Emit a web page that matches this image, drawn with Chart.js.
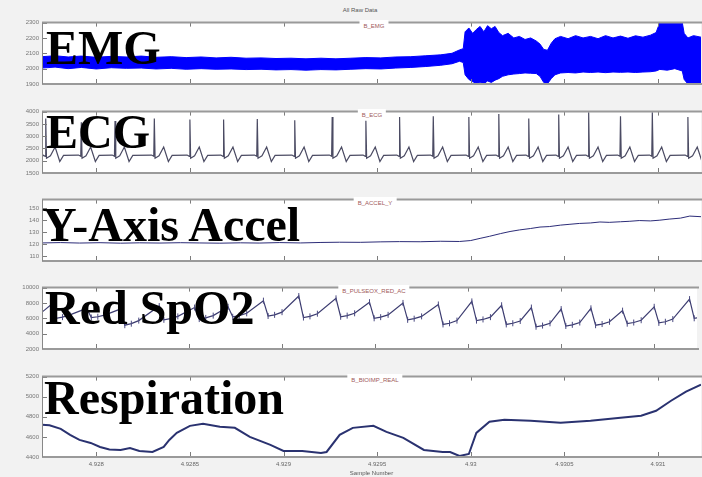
<!DOCTYPE html>
<html>
<head>
<meta charset="utf-8">
<script src="https://cdn.jsdelivr.net/npm/chart.js@4.4.1/dist/chart.umd.min.js"></script>
<style>
  html, body { margin: 0; padding: 0; background: #f2f2f2; }
  #fig { position: relative; width: 702px; height: 477px; overflow: hidden; }
  canvas { position: absolute; left: 0; }
  .big { position: absolute; font: bold 48px "Liberation Serif", "Times New Roman", serif; line-height: 48px; color: #000; white-space: nowrap; z-index: 5; }
  .sub { position: absolute; transform: translateX(-50%); background: #fff; color: #a05a5a; font: 6px "Liberation Sans", Arial, sans-serif; padding: 3px 4px 1px; white-space: nowrap; z-index: 4; }
  .small { position: absolute; transform: translateX(-50%); color: #555; font: 6px "Liberation Sans", Arial, sans-serif; white-space: nowrap; z-index: 4; }
</style>
</head>
<body>
<div id="fig">
  <canvas id="emgChart" width="702" height="94" style="top:16px"></canvas>
  <canvas id="ecgChart" width="702" height="94" style="top:105px"></canvas>
  <canvas id="accelChart" width="702" height="94" style="top:193px"></canvas>
  <canvas id="spo2Chart" width="702" height="94" style="top:281px"></canvas>
  <canvas id="respChart" width="702" height="107" style="top:370px"></canvas>

  <div class="small" style="left:360px; top:7px;">All Raw Data</div>
  <div class="sub" style="left:374px; top:20px;">B_EMG</div>
  <div class="sub" style="left:372px; top:109px;">B_ECG</div>
  <div class="sub" style="left:375px; top:197px;">B_ACCEL_Y</div>
  <div class="sub" style="left:374px; top:285px;">B_PULSEOX_RED_AC</div>
  <div class="sub" style="left:375px; top:374px;">B_BIOIMP_REAL</div>

  <div class="big" style="left:46px; top:24px;">EMG</div>
  <div class="big" style="left:46px; top:108px;">ECG</div>
  <div class="big" style="left:42px; top:201px;">Y-Axis Accel</div>
  <div class="big" style="left:45px; top:284px;">Red SpO2</div>
  <div class="big" style="left:44px; top:374px;">Respiration</div>
</div>

<script>
// shared x axis (sample number)
const xMin = 492771;
const xMax = 493123;
const xTickValues = [492800, 492850, 492900, 492950, 493000, 493050, 493100];
const xTickLabels = ["4.928", "4.9285", "4.929", "4.9295", "4.93", "4.9305", "4.931"];

// y tick labels per panel
const emgTicks = [1900, 2000, 2100, 2200, 2300];
const ecgTicks = [1500, 2000, 2500, 3000, 3500, 4000];
const accelTicks = [110, 120, 130, 140, 150];
const spo2Ticks = [2000, 4000, 6000, 8000, 10000];
const respTicks = [4400, 4600, 4800, 5000, 5200];

// EMG envelope (upper / lower edge of the band)
const emgX = [492771, 492778, 492785, 492792, 492800, 492808, 492816, 492824, 492832, 492840,
  492848, 492856, 492864, 492872, 492880, 492888, 492896, 492904, 492912, 492920,
  492928, 492936, 492944, 492952, 492960, 492968, 492976, 492984, 492990, 492994,
  492996, 492997, 492999, 493001, 493003, 493005, 493007, 493009, 493011, 493013,
  493015, 493017, 493020, 493023, 493026, 493029, 493032, 493035, 493037, 493039,
  493041, 493043, 493045, 493048, 493052, 493056, 493060, 493064, 493068, 493072,
  493076, 493080, 493084, 493088, 493092, 493096, 493099, 493101, 493105, 493109,
  493113, 493114, 493116, 493119, 493123];
const emgTop = [2078, 2084, 2076, 2082, 2074, 2080, 2076, 2082, 2074, 2078,
  2072, 2076, 2070, 2074, 2068, 2070, 2066, 2068, 2064, 2068,
  2064, 2068, 2072, 2070, 2076, 2078, 2084, 2090, 2100, 2122,
  2130, 2240, 2265, 2230, 2255, 2275, 2240, 2280, 2260, 2275,
  2235, 2215, 2230, 2200, 2210, 2190, 2200, 2180, 2160, 2125,
  2120, 2165, 2195, 2210, 2195, 2215, 2200, 2210, 2195, 2215,
  2200, 2212, 2198, 2214, 2205, 2218, 2235, 2300, 2300, 2300,
  2300, 2230, 2200, 2215, 2205];
const emgBottom = [2004, 2010, 2000, 2008, 1998, 2006, 2002, 2004, 1998, 2002,
  1996, 2000, 1996, 1998, 1994, 1996, 1992, 1994, 1990, 1994,
  1992, 1996, 2000, 1998, 2004, 2008, 2014, 2022, 2032, 2048,
  2040, 1960, 1930, 1915, 1905, 1912, 1902, 1920, 1910, 1925,
  1935, 1950, 1960, 1965, 1968, 1972, 1970, 1968, 1950, 1910,
  1902, 1935, 1960, 1972, 1975, 1972, 1978, 1975, 1978, 1974,
  1978, 1976, 1978, 1975, 1978, 1980, 1985, 1995, 1990, 2000,
  1985, 1930, 1900, 1900, 1900];

// ECG: R-peak positions, R-peak heights, and the beat shape read from one beat
const ecgBeatX = [492773, 492792, 492810, 492831, 492850, 492868, 492886, 492906, 492926, 492944,
  492962, 492980, 492999, 493015, 493031, 493047, 493063, 493080, 493097, 493116];
const ecgPeak = [3720, 3570, 3620, 3720, 3680, 3680, 3700, 3650, 3780, 3630,
  3780, 3810, 3780, 3900, 3720, 3880, 3970, 3810, 3970, 3780];
const ecgShapeDx = [-1.5, -0.3, 0, 0.4, 2.5, 5, 7.5, 9.5];
const ecgShapeY = [2230, 2180, null, 2100, 2200, 2560, 1970, 2220];

// Y-axis acceleration
const accelX = [492771, 492781, 492791, 492802, 492813, 492823, 492834, 492845, 492855, 492866,
  492877, 492887, 492898, 492909, 492920, 492930, 492941, 492952, 492962, 492973,
  492984, 492994, 493000, 493005, 493010, 493016, 493021, 493026, 493032, 493037,
  493042, 493048, 493053, 493058, 493064, 493069, 493074, 493080, 493085, 493090,
  493096, 493101, 493106, 493112, 493117, 493123];
const accelY = [121.0, 121.3, 120.9, 121.2, 120.8, 121.1, 120.9, 121.2, 121.0, 120.8,
  121.1, 120.9, 121.3, 121.0, 121.4, 121.6, 121.5, 121.9, 122.1, 122.0,
  122.4, 122.2, 123.0, 124.8, 126.5, 128.8, 130.5, 131.8, 133.0, 134.2,
  134.6, 135.8, 136.5, 137.2, 137.6, 138.4, 138.1, 138.6, 139.0, 139.6,
  139.3, 139.9, 140.8, 141.6, 143.3, 142.8];

// Red SpO2: per pulse the peak, the low after the drop, the low stretch and the start of the rise
const spo2PeakX = [492776, 492795, 492813, 492834, 492853, 492871, 492890, 492909, 492929, 492947,
  492965, 492984, 493002, 493018, 493034, 493050, 493066, 493083, 493100, 493119];
const spo2Peak = [7800, 7300, 7200, 7600, 7400, 7500, 8300, 8900, 8600, 8100,
  8000, 7800, 8200, 7700, 7400, 7200, 7300, 7000, 7500, 8500];
const spo2Low = [6000, 6100, 5100, 5800, 5900, 6200, 6300, 6100, 6200, 6000,
  5800, 5200, 5700, 5200, 4900, 5000, 5100, 5300, 5400, 6000];
const spo2Flat = [6150, 6200, 5300, 5950, 6050, 6350, 6450, 6250, 6350, 6150,
  5950, 5350, 5850, 5350, 5050, 5150, 5250, 5450, 5550, 6150];
const spo2Mid = [6450, 6450, 5700, 6250, 6350, 6650, 6800, 6600, 6650, 6450,
  6250, 5700, 6150, 5650, 5350, 5450, 5550, 5750, 5900, 6450];

// Respiration (bio-impedance)
const respX = [492771, 492775, 492781, 492786, 492791, 492797, 492802, 492807, 492813, 492818,
  492823, 492830, 492836, 492839, 492843, 492850, 492857, 492866, 492874, 492882,
  492893, 492900, 492910, 492920, 492923, 492930, 492937, 492948, 492955, 492964,
  492975, 492985, 492989, 492994, 492999, 493003, 493010, 493018, 493032, 493048,
  493064, 493080, 493091, 493099, 493107, 493115, 493123];
const respY = [4720, 4715, 4680, 4620, 4570, 4540, 4500, 4475, 4470, 4490,
  4460, 4450, 4500, 4570, 4640, 4710, 4730, 4700, 4690, 4600,
  4520, 4460, 4460, 4440, 4450, 4620, 4690, 4710, 4650, 4590,
  4470, 4450, 4450, 4410, 4430, 4640, 4750, 4770, 4760, 4740,
  4760, 4790, 4810, 4860, 4960, 5050, 5120];

const tickFont = { family: "'Liberation Sans', Arial, sans-serif", size: 6 };

function toPoints(xs, ys) {
  return xs.map(function (x, i) { return { x: x, y: ys[i] }; });
}

// ECG series from beat positions + beat shape
const ecgPoints = [{ x: xMin, y: 2210 }];
ecgBeatX.forEach(function (bx, i) {
  ecgShapeDx.forEach(function (dx, k) {
    ecgPoints.push({ x: bx + dx, y: ecgShapeY[k] === null ? ecgPeak[i] : ecgShapeY[k] });
  });
});

// SpO2 series from the pulse table
const spo2Points = [{ x: xMin, y: 6800 }];
spo2PeakX.forEach(function (px, i) {
  spo2Points.push({ x: px, y: spo2Peak[i] });
  spo2Points.push({ x: px + 2.5, y: spo2Low[i] });
  spo2Points.push({ x: px + 6, y: spo2Flat[i] });
  spo2Points.push({ x: px + 10, y: spo2Mid[i] });
});

// white plot area, grey frame and inward tick marks (matlab look)
const panelFrame = {
  id: "panelFrame",
  beforeDraw(chart) {
    const ctx = chart.ctx;
    const a = chart.chartArea;
    ctx.save();
    ctx.fillStyle = "#ffffff";
    ctx.fillRect(a.left, a.top, a.right - a.left, a.bottom - a.top);
    ctx.restore();
  },
  afterDraw(chart) {
    const ctx = chart.ctx;
    const a = chart.chartArea;
    const sx = chart.scales.x;
    const sy = chart.scales.y;
    ctx.save();
    ctx.strokeStyle = "#7c7c7c";
    ctx.lineWidth = 1;
    ctx.beginPath();
    sy.ticks.forEach(function (t) {
      const y = Math.round(sy.getPixelForValue(t.value)) + 0.5;
      ctx.moveTo(a.left, y);
      ctx.lineTo(a.left + 5, y);
    });
    xTickValues.forEach(function (v) {
      const x = Math.round(sx.getPixelForValue(v)) + 0.5;
      ctx.moveTo(x, a.bottom);
      ctx.lineTo(x, a.bottom - 5);
      ctx.moveTo(x, a.top);
      ctx.lineTo(x, a.top + 4);
    });
    ctx.stroke();
    ctx.strokeStyle = "#9a9a9a";
    ctx.lineWidth = 2;
    ctx.beginPath();
    ctx.moveTo(a.left, a.top);
    ctx.lineTo(a.right + 2, a.top);
    ctx.moveTo(a.left, a.bottom);
    ctx.lineTo(a.right + 2, a.bottom);
    ctx.stroke();
    ctx.strokeStyle = "#888888";
    ctx.lineWidth = 1;
    ctx.beginPath();
    ctx.moveTo(a.left + 0.5, a.top);
    ctx.lineTo(a.left + 0.5, a.bottom);
    ctx.stroke();
    ctx.restore();
  },
};

function panelConfig(datasets, yMin, yMax, yTicks, showX) {
  return {
    type: "line",
    data: { datasets: datasets },
    options: {
      responsive: false,
      animation: false,
      events: [],
      layout: { padding: { top: 6, bottom: showX ? 0 : 6, left: 0, right: 1 } },
      plugins: { legend: { display: false }, tooltip: { enabled: false } },
      elements: { point: { radius: 0 }, line: { tension: 0 } },
      scales: {
        x: {
          type: "linear",
          display: showX,
          min: xMin,
          max: xMax,
          afterBuildTicks: function (scale) {
            scale.ticks = xTickValues.map(function (v) { return { value: v }; });
          },
          afterFit: function (scale) {
            scale.height = 20;
          },
          grid: { display: false, drawTicks: false },
          border: { display: false },
          ticks: {
            autoSkip: false,
            maxRotation: 0,
            padding: 4,
            color: "#666",
            font: tickFont,
            callback: function (v) { return xTickLabels[xTickValues.indexOf(v)]; },
          },
          title: { display: true, text: "Sample Number", color: "#555", font: tickFont, padding: 0 },
        },
        y: {
          min: yMin,
          max: yMax,
          afterBuildTicks: function (scale) {
            scale.ticks = yTicks.map(function (v) { return { value: v }; });
          },
          afterFit: function (scale) {
            scale.width = 42;
          },
          grid: { display: false, drawTicks: false },
          border: { display: false },
          ticks: {
            autoSkip: false,
            padding: 3,
            color: "#777",
            font: tickFont,
            callback: function (v) { return String(v); },
          },
        },
      },
    },
    plugins: [panelFrame],
  };
}

new Chart(document.getElementById("emgChart"), panelConfig([
  { data: toPoints(emgX, emgBottom), borderColor: "#0000ff", borderWidth: 1 },
  { data: toPoints(emgX, emgTop), borderColor: "#0000ff", borderWidth: 1, backgroundColor: "#0000ff", fill: "-1" },
], 1900, 2300, emgTicks, false));

new Chart(document.getElementById("ecgChart"), panelConfig([
  { data: ecgPoints, borderColor: "#4b4b63", borderWidth: 1.2 },
], 1500, 4000, ecgTicks, false));

new Chart(document.getElementById("accelChart"), panelConfig([
  { data: toPoints(accelX, accelY), borderColor: "#2c2c78", borderWidth: 1 },
], 106, 157, accelTicks, false));

new Chart(document.getElementById("spo2Chart"), panelConfig([
  {
    data: spo2Points,
    borderColor: "#3c3c70",
    borderWidth: 1.2,
    pointRadius: 3,
    pointStyle: "line",
    pointRotation: 90,
    pointBorderColor: "#4a4a80",
    pointBorderWidth: 1,
  },
], 2000, 10000, spo2Ticks, false));

new Chart(document.getElementById("respChart"), panelConfig([
  { data: toPoints(respX, respY), borderColor: "#2a3270", borderWidth: 2 },
], 4400, 5200, respTicks, true));
</script>
</body>
</html>
